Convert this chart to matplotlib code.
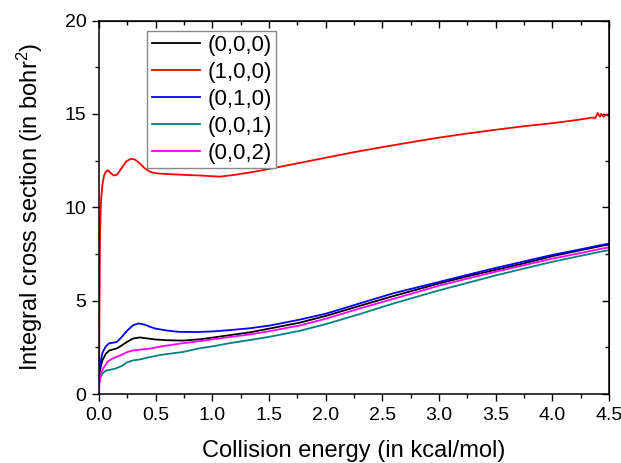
import matplotlib
matplotlib.use("Agg")
import matplotlib.pyplot as plt
from matplotlib.ticker import MultipleLocator

plt.rcParams['font.family'] = ['Liberation Sans', 'DejaVu Sans']
plt.rcParams['mathtext.default'] = 'regular'

# (0,0,0)
x_000 = [0, 0.01, 0.03, 0.06, 0.09, 0.12, 0.16, 0.2, 0.25, 0.3, 0.36, 0.42, 0.5, 0.6, 0.74,
         0.89, 1.0, 1.15, 1.33, 1.5, 1.77, 2.0, 2.3, 2.6, 3.0, 3.25, 3.5, 3.75, 4.0, 4.25, 4.45, 4.5]
y_000 = [0.9, 1.3, 1.8, 2.15, 2.33, 2.38, 2.45, 2.6, 2.8, 2.97, 3.03, 2.98, 2.92, 2.88, 2.86,
         2.93, 3.02, 3.15, 3.3, 3.5, 3.82, 4.18, 4.72, 5.25, 5.92, 6.3, 6.65, 7.0, 7.38, 7.7, 7.95, 8.0]

# (1,0,0)
x_100 = [0.0, 0.003, 0.006, 0.01, 0.015, 0.02, 0.03, 0.045, 0.06, 0.08, 0.1, 0.13, 0.16, 0.2,
         0.24, 0.28, 0.32, 0.36, 0.4, 0.45, 0.5, 0.6, 0.7, 0.8, 0.9, 1.0, 1.07, 1.2, 1.35, 1.5,
         1.75, 2.0, 2.25, 2.5, 2.75, 3.0, 3.25, 3.5, 3.75, 4.0, 4.2, 4.35, 4.38, 4.4, 4.42,
         4.43, 4.45, 4.47, 4.5]
y_100 = [0.0, 3.0, 6.5, 8.8, 9.9, 10.5, 11.2, 11.7, 11.9, 11.98, 11.85, 11.7, 11.75, 12.1,
         12.45, 12.6, 12.55, 12.35, 12.1, 11.9, 11.82, 11.78, 11.75, 11.72, 11.7, 11.66, 11.64,
         11.74, 11.88, 12.05, 12.35, 12.65, 12.95, 13.22, 13.48, 13.73, 13.95, 14.15, 14.34, 14.5,
         14.66, 14.8, 14.78, 15.05, 14.85, 15.0, 14.85, 14.95, 14.9]

# (0,1,0)
x_010 = [0, 0.01, 0.03, 0.06, 0.09, 0.12, 0.16, 0.2, 0.25, 0.3, 0.35, 0.4, 0.45, 0.5, 0.6,
         0.7, 0.85, 1.0, 1.15, 1.33, 1.5, 1.77, 2.0, 2.3, 2.6, 3.0, 3.25, 3.5, 3.75, 4.0, 4.25,
         4.45, 4.5]
y_010 = [1.1, 1.6, 2.2, 2.55, 2.72, 2.74, 2.8, 3.05, 3.4, 3.68, 3.78, 3.72, 3.6, 3.5, 3.4,
         3.33, 3.32, 3.35, 3.42, 3.52, 3.66, 3.98, 4.3, 4.85, 5.4, 6.0, 6.38, 6.75, 7.1, 7.45,
         7.75, 8.0, 8.05]

# (0,0,1)
x_001 = [0, 0.01, 0.03, 0.06, 0.1, 0.14, 0.2, 0.25, 0.3, 0.36, 0.45, 0.55, 0.74, 0.89, 1.0,
         1.15, 1.33, 1.5, 1.77, 2.0, 2.3, 2.6, 3.0, 3.25, 3.5, 3.75, 4.0, 4.25, 4.45, 4.5]
y_001 = [0.5, 0.85, 1.1, 1.25, 1.3, 1.35, 1.5, 1.7, 1.8, 1.85, 1.98, 2.1, 2.25, 2.45, 2.55,
         2.72, 2.89, 3.06, 3.38, 3.74, 4.28, 4.85, 5.55, 5.95, 6.35, 6.72, 7.08, 7.4, 7.65, 7.7]

# (0,0,2)
x_002 = [0, 0.005, 0.02, 0.04, 0.08, 0.12, 0.16, 0.2, 0.25, 0.3, 0.36, 0.45, 0.55, 0.74, 0.89,
         1.0, 1.15, 1.33, 1.5, 1.77, 2.0, 2.3, 2.6, 3.0, 3.25, 3.5, 3.75, 4.0, 4.25, 4.45, 4.5]
y_002 = [0.0, 0.7, 1.15, 1.4, 1.75, 1.9, 2.0, 2.1, 2.25, 2.33, 2.37, 2.43, 2.55, 2.72, 2.83,
         2.93, 3.05, 3.19, 3.36, 3.67, 4.03, 4.58, 5.1, 5.8, 6.18, 6.55, 6.9, 7.25, 7.55, 7.8, 7.85]

fig = plt.figure(figsize=(6.21, 4.63), dpi=100)
ax = fig.add_axes([0.1594, 0.149, 0.8213, 0.8067])

lw = 1.3
ax.plot(x_000, y_000, color='black', lw=lw, label='(0,0,0)')
ax.plot(x_100, y_100, color='#ff0000', lw=lw, label='(1,0,0)')
ax.plot(x_010, y_010, color='#0000ff', lw=lw, label='(0,1,0)')
ax.plot(x_001, y_001, color='#008080', lw=lw, label='(0,0,1)')
ax.plot(x_002, y_002, color='#ff00ff', lw=lw, label='(0,0,2)')

ax.set_xlim(0, 4.5)
ax.set_ylim(0, 20)
ax.xaxis.set_major_locator(MultipleLocator(0.5))
ax.xaxis.set_minor_locator(MultipleLocator(0.25))
ax.yaxis.set_major_locator(MultipleLocator(5))
ax.yaxis.set_minor_locator(MultipleLocator(2.5))
ax.xaxis.set_major_formatter(plt.FormatStrFormatter('%.1f'))

for s in ax.spines.values():
    s.set_linewidth(1.1)

ax.tick_params(which='both', direction='out', width=1.0, labelsize=14, pad=4)
ax.tick_params(which='major', length=5)
ax.tick_params(which='minor', length=3)

# top and right ticks point inward, no labels
top = ax.secondary_xaxis('top')
top.xaxis.set_major_locator(MultipleLocator(0.5))
top.xaxis.set_minor_locator(MultipleLocator(0.25))
top.tick_params(which='both', direction='in', labeltop=False, width=1.0)
top.tick_params(which='major', length=5)
top.tick_params(which='minor', length=3)
right = ax.secondary_yaxis('right')
right.yaxis.set_major_locator(MultipleLocator(5))
right.yaxis.set_minor_locator(MultipleLocator(2.5))
right.tick_params(which='both', direction='in', labelright=False, width=1.0)
right.tick_params(which='major', length=5)
right.tick_params(which='minor', length=3)

ax.set_xlabel('Collision energy (in kcal/mol)', fontsize=17, labelpad=12)
ax.set_ylabel('Integral cross section (in bohr$^2$)', fontsize=17, labelpad=14)

leg = ax.legend(loc='upper left', bbox_to_anchor=(0.095, 0.973), fontsize=16,
                fancybox=False, framealpha=1, edgecolor='#888888',
                handlelength=2.15, handletextpad=0.35, labelspacing=0.27,
                borderpad=0.2, borderaxespad=0)
leg.get_frame().set_linewidth(1.0)

fig.savefig('out.png', dpi=100)
